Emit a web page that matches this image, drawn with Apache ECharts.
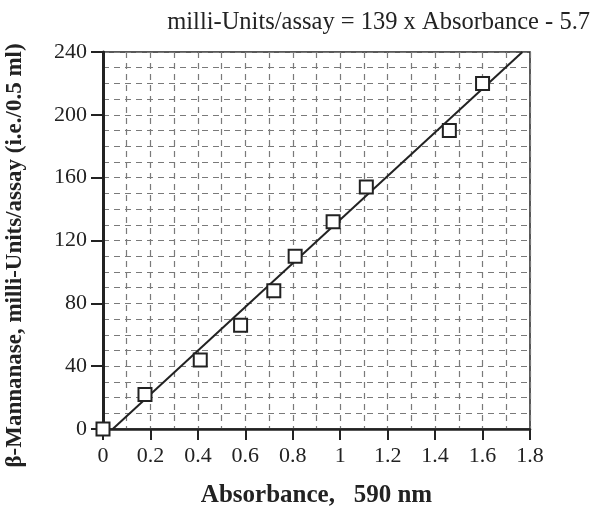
<!DOCTYPE html>
<html>
<head>
<meta charset="utf-8">
<script src="https://cdn.jsdelivr.net/npm/echarts@6/dist/echarts.min.js"></script>
<style>html,body{margin:0;padding:0;background:#fff}#c{width:598px;height:513px}</style>
</head>
<body>
<div id="c"></div>
<script>
// Data
var absorbance = [0, 0.177, 0.41, 0.58, 0.72, 0.81, 0.97, 1.11, 1.46, 1.60];
var milliUnits = [0, 22, 44, 66, 88, 110, 132, 154, 190, 220];
// Regression line y = 139x - 5.7 (endpoints at y = 0 and y = 240)
var fitX = [0.041, 1.768];
var fitY = [0, 240];
var xTicks = [0, 0.2, 0.4, 0.6, 0.8, 1, 1.2, 1.4, 1.6, 1.8];
var yTicks = [0, 40, 80, 120, 160, 200, 240];

var FONT = '"Liberation Serif", "Times New Roman", serif';
var chart = echarts.init(document.getElementById('c'));
var gridLine = {show: true, lineStyle: {color: '#7a7a7a', width: 1.2, type: [6, 5]}};
chart.setOption({
  animation: false,
  backgroundColor: '#fff',
  title: {
    text: 'milli-Units/assay = 139 x Absorbance - 5.7',
    right: 8, top: 10, padding: 0,
    textStyle: {fontFamily: FONT, fontSize: 24.5, fontWeight: 'normal', color: '#222'}
  },
  grid: {left: 103, right: 68, top: 52, bottom: 84, containLabel: false, outerBoundsMode: 'none',
    show: true, borderColor: '#222', borderWidth: 1.5, backgroundColor: 'transparent'},
  xAxis: {
    type: 'value', min: xTicks[0], max: xTicks[xTicks.length - 1], interval: 0.2,
    name: 'Absorbance,   590 nm', nameLocation: 'middle', nameGap: 54,
    nameTextStyle: {fontFamily: FONT, fontSize: 25, fontWeight: 'bold', color: '#222'},
    axisLine: {show: true, onZero: false, lineStyle: {color: '#222', width: 2.5}},
    axisTick: {show: true, inside: false, length: 11, lineStyle: {color: '#222', width: 2}},
    axisLabel: {fontFamily: FONT, fontSize: 22, color: '#222', margin: 16,
      formatter: function (v) { return String(Math.round(v * 10) / 10); }},
    splitLine: gridLine,
    minorTick: {show: false, splitNumber: 2},
    minorSplitLine: gridLine
  },
  yAxis: {
    type: 'value', min: yTicks[0], max: yTicks[yTicks.length - 1], interval: 40,
    name: 'β-Mannanase, milli-Units/assay (i.e./0.5 ml)', nameLocation: 'middle', nameGap: 76,
    nameTextStyle: {fontFamily: FONT, fontSize: 23, fontWeight: 'bold', color: '#222', padding: [0, 30, 0, 0]},
    axisLine: {show: true, onZero: false, lineStyle: {color: '#222', width: 3}},
    axisTick: {show: true, inside: false, length: 12, lineStyle: {color: '#222', width: 2}},
    axisLabel: {fontFamily: FONT, fontSize: 22, color: '#222', margin: 16},
    splitLine: gridLine,
    minorTick: {show: false, splitNumber: 4},
    minorSplitLine: gridLine
  },
  series: [
    {
      type: 'line', data: fitX.map(function (x, i) { return [x, fitY[i]]; }),
      showSymbol: false, symbol: 'none', lineStyle: {color: '#222', width: 2}, z: 3, silent: true
    },
    {
      type: 'scatter', data: absorbance.map(function (x, i) { return [x, milliUnits[i]]; }),
      symbol: 'rect', symbolSize: 13, clip: false,
      itemStyle: {color: '#fff', borderColor: '#222', borderWidth: 2, opacity: 1}, z: 5
    }
  ]
});
</script>
</body>
</html>
